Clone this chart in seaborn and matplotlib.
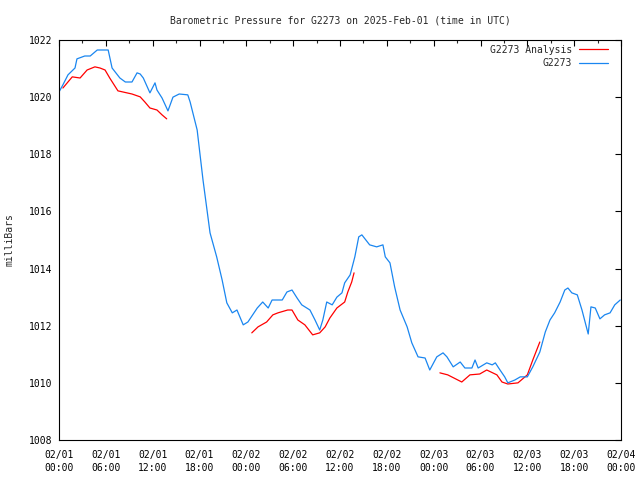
import numpy as np
import pandas as pd
import matplotlib
matplotlib.use("Agg")
import matplotlib.pyplot as plt
from matplotlib.lines import Line2D
import seaborn as sns

# ---- data (hours since 2025-02-01 00:00 UTC, pressure in mbar) ----
station_hours = [0.0, 0.5, 1.15, 2.05, 2.3, 3.3, 4.0, 4.9, 6.3, 6.8, 7.8, 8.5, 9.35, 10.0, 10.4,
                 10.8, 11.65, 12.3, 12.55, 13.2, 13.96, 14.6, 15.4, 16.5, 16.8, 17.7, 18.45,
                 19.35, 20.2, 20.9, 21.5, 22.2, 22.8, 23.6, 24.2, 25.4, 26.1, 26.8, 27.3, 28.6,
                 29.2, 29.85, 30.5, 31.1, 32.15, 32.8, 33.4, 33.8, 34.3, 35.0, 35.6, 36.25, 36.6,
                 37.3, 37.9, 38.4, 38.8, 39.8, 40.7, 41.5, 41.8, 42.4, 43.0, 43.7, 44.6, 45.2,
                 46.0, 46.9, 47.5, 48.4, 49.2, 49.7, 50.5, 51.4, 52.0, 52.9, 53.3, 53.7, 54.8,
                 55.5, 55.9, 56.5, 57.1, 57.5, 58.4, 59.1, 60.0, 60.7, 61.6, 62.3, 62.9, 63.5,
                 64.2, 64.8, 65.2, 65.7, 66.4, 67.0, 67.6, 67.8, 68.15, 68.7, 69.3, 69.9, 70.6,
                 71.2, 71.9]
station_mbar = [1020.18, 1020.43, 1020.78, 1021.02, 1021.34, 1021.44, 1021.44, 1021.65, 1021.65,
                1021.02, 1020.67, 1020.53, 1020.53, 1020.85, 1020.81, 1020.67, 1020.15, 1020.50,
                1020.25, 1019.97, 1019.52, 1020.0, 1020.11, 1020.08, 1019.83, 1018.85, 1017.10,
                1015.25, 1014.41, 1013.60, 1012.80, 1012.45, 1012.55, 1012.03, 1012.13, 1012.62,
                1012.83, 1012.62, 1012.90, 1012.90, 1013.18, 1013.25, 1012.97, 1012.73, 1012.55,
                1012.20, 1011.85, 1012.20, 1012.83, 1012.73, 1013.0, 1013.15, 1013.50, 1013.78,
                1014.41, 1015.11, 1015.18, 1014.83, 1014.76, 1014.83, 1014.41, 1014.20, 1013.36,
                1012.55, 1011.96, 1011.40, 1010.91, 1010.87, 1010.45, 1010.91, 1011.05, 1010.91,
                1010.56, 1010.73, 1010.52, 1010.52, 1010.80, 1010.52, 1010.70, 1010.63, 1010.70,
                1010.45, 1010.21, 1010.0, 1010.10, 1010.21, 1010.21, 1010.56, 1011.08, 1011.78,
                1012.20, 1012.45, 1012.83, 1013.25, 1013.32, 1013.15, 1013.08, 1012.55, 1011.92,
                1011.71, 1012.66, 1012.62, 1012.24, 1012.38, 1012.45, 1012.73, 1012.90]

analysis_hours = [0.5, 1.7, 2.7, 3.6, 4.6, 5.25, 5.9, 6.5, 7.55, 9.35, 10.4, 11.0, 11.65, 12.55,
                  13.2, 13.8,
                  24.7, 25.5, 26.6, 27.4, 28.05, 29.3, 29.85, 30.6, 31.5, 32.5, 33.4, 34.1, 34.7,
                  35.6, 36.6, 37.0, 37.5, 37.8,
                  48.8, 49.8, 51.6, 52.65, 53.9, 54.8, 56.1, 56.75, 57.5, 58.8, 60.0, 60.7, 61.6]
analysis_mbar = [1020.32, 1020.71, 1020.67, 1020.95, 1021.06, 1021.02, 1020.95, 1020.67, 1020.22,
                 1020.11, 1020.01, 1019.83, 1019.62, 1019.55, 1019.38, 1019.24,
                 1011.75, 1011.96, 1012.13, 1012.38, 1012.45, 1012.55, 1012.55, 1012.20, 1012.03,
                 1011.68, 1011.75, 1011.96, 1012.27, 1012.62, 1012.83, 1013.18, 1013.53, 1013.85,
                 1010.35, 1010.28, 1010.03, 1010.28, 1010.31, 1010.45, 1010.28, 1010.03, 1009.96,
                 1010.0, 1010.28, 1010.80, 1011.43]
analysis_segment = [0] * 16 + [1] * 18 + [2] * 13

tick_hours = list(range(0, 73, 6))
tick_labels = ["02/01\n00:00", "02/01\n06:00", "02/01\n12:00", "02/01\n18:00",
               "02/02\n00:00", "02/02\n06:00", "02/02\n12:00", "02/02\n18:00",
               "02/03\n00:00", "02/03\n06:00", "02/03\n12:00", "02/03\n18:00",
               "02/04\n00:00"]
y_ticks = [1008, 1010, 1012, 1014, 1016, 1018, 1020, 1022]

sns.set_style("white")
plt.rcParams["font.family"] = ["DejaVu Sans Mono"]
plt.rcParams["font.size"] = 7

df_station = pd.DataFrame({"hour": station_hours, "mbar": station_mbar})
df_analysis = pd.DataFrame({"hour": analysis_hours, "mbar": analysis_mbar, "seg": analysis_segment})

fig = plt.figure(figsize=(6.4, 4.8), dpi=100)
ax = fig.add_axes([59 / 640, 1 - 440 / 480, 562 / 640, 400 / 480])

red = "#ff0000"
blue = "#1a86f0"
sns.lineplot(data=df_analysis, x="hour", y="mbar", units="seg", estimator=None,
             color=red, lw=0.9, ax=ax, legend=False)
sns.lineplot(data=df_station, x="hour", y="mbar", color=blue, lw=0.9, ax=ax, legend=False)

ax.set_xlim(0, 72)
ax.set_ylim(1008, 1022)
ax.set_xticks(tick_hours)
ax.set_xticklabels(tick_labels, fontsize=7, linespacing=1.35)
ax.set_xticks(np.arange(3, 72, 6), minor=True)
ax.set_yticks(y_ticks)
ax.set_yticklabels([str(v) for v in y_ticks], fontsize=7)
ax.tick_params(axis="both", which="major", direction="in", length=4, width=0.8,
               top=True, right=True, colors="black")
ax.tick_params(axis="x", which="major", pad=7)
ax.tick_params(axis="y", which="major", pad=5)
ax.tick_params(axis="x", which="minor", direction="in", length=2, width=0.8, top=True)
for s in ax.spines.values():
    s.set_color("black")
    s.set_linewidth(0.8)
ax.set_xlabel("")
ax.set_ylabel("milliBars", fontsize=7, labelpad=10)
ax.set_title("Barometric Pressure for G2273 on 2025-Feb-01 (time in UTC)", fontsize=7, pad=12)

handles = [Line2D([], [], color=red, lw=0.9), Line2D([], [], color=blue, lw=0.9)]
leg = ax.legend(handles, ["G2273 Analysis", "G2273"], loc="upper right",
                bbox_to_anchor=(1 - 8 / 562, 1), frameon=False,
                markerfirst=False, fontsize=7, handlelength=3.0, borderaxespad=0.3,
                labelspacing=0.35, handletextpad=0.7, borderpad=0.2)
leg._legend_box.align = "right"

fig.savefig("out.png", dpi=100)
